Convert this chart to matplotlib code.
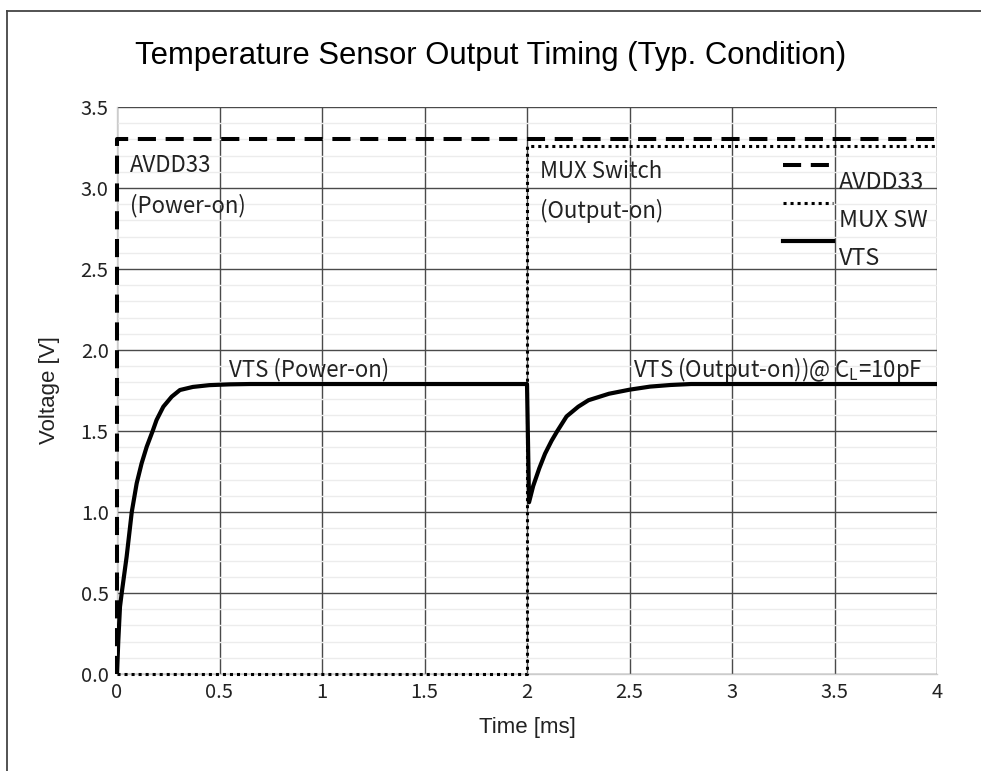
import matplotlib
matplotlib.use("Agg")
import matplotlib.pyplot as plt
from matplotlib.lines import Line2D
import numpy as np

# ---- data ----
avdd_t = [0.0, 0.0, 4.0]
avdd_v = [0.0, 3.30, 3.30]

mux_t = [0.0, 2.0, 2.0, 4.0]
mux_v = [0.0, 0.0, 3.26, 3.26]

vts_t = [0.0, 0.0065, 0.0146, 0.023, 0.047, 0.072, 0.096, 0.12, 0.145, 0.174, 0.193,
         0.226, 0.267, 0.307, 0.37, 0.45, 0.55, 0.65, 2.0,
         2.01, 2.03, 2.06, 2.088, 2.12, 2.148, 2.193, 2.25, 2.3,
         2.4, 2.5, 2.6, 2.7, 2.8, 4.0]
vts_v = [0.0, 0.21, 0.415, 0.5, 0.724, 1.0, 1.177, 1.30, 1.403, 1.5, 1.568,
         1.65, 1.712, 1.753, 1.772, 1.783, 1.788, 1.79, 1.79,
         1.06, 1.16, 1.27, 1.36, 1.44, 1.5, 1.59, 1.65, 1.69,
         1.73, 1.755, 1.774, 1.784, 1.79, 1.79]

x_ticks = [0, 0.5, 1, 1.5, 2, 2.5, 3, 3.5, 4]
x_tick_labels = ["0", "0.5", "1", "1.5", "2", "2.5", "3", "3.5", "4"]
y_ticks = [0.0, 0.5, 1.0, 1.5, 2.0, 2.5, 3.0, 3.5]
y_tick_labels = ["0.0", "0.5", "1.0", "1.5", "2.0", "2.5", "3.0", "3.5"]

legend_labels = ["AVDD33", "MUX SW", "VTS"]

# ---- figure ----
W, H = 981, 771
fig = plt.figure(figsize=(W / 100, H / 100), dpi=100)
ax = fig.add_axes([117 / W, 1 - 674 / H, 820 / W, 567 / H])

lab_font = ["Noto Sans CJK KR", "DejaVu Sans"]
txt_col = "#222222"

ax.set_xlim(0, 4)
ax.set_ylim(0, 3.5)
ax.set_xticks(x_ticks)
ax.set_xticklabels(x_tick_labels, fontfamily=lab_font, fontsize=14.5, color=txt_col)
ax.set_yticks(y_ticks)
ax.set_yticklabels(y_tick_labels, fontfamily=lab_font, fontsize=14.5, color=txt_col)
ax.set_yticks(np.arange(0, 3.51, 0.1), minor=True)
ax.tick_params(axis="both", which="both", length=0)
ax.tick_params(axis="y", pad=6)
ax.tick_params(axis="x", pad=6)

ax.grid(True, which="minor", axis="y", color="#ececec", lw=1.0, zorder=0)
ax.grid(True, which="major", axis="both", color="#4a4a4a", lw=1.0, zorder=1)
for s in ["top", "right"]:
    ax.spines[s].set_visible(False)
for s in ["left", "bottom"]:
    ax.spines[s].set_color("#cccccc")
    ax.spines[s].set_linewidth(1.0)

# series
ax.plot(avdd_t, avdd_v, color="black", lw=2.9, dashes=(4.5, 2.4), zorder=5, clip_on=False)
ax.plot(mux_t, mux_v, color="black", lw=2.2, dashes=(1.0, 1.3), zorder=4, clip_on=False)
ax.plot(vts_t, vts_v, color="black", lw=3.0, zorder=6, solid_joinstyle="round")

# annotations
afs = 16
ax.text(0.063, 3.10, "AVDD33", fontfamily=lab_font, fontsize=afs, color=txt_col, va="baseline")
ax.text(0.063, 2.852, "(Power-on)", fontfamily=lab_font, fontsize=afs, color=txt_col, va="baseline")
ax.text(2.063, 3.059, "MUX Switch", fontfamily=lab_font, fontsize=afs, color=txt_col, va="baseline")
ax.text(2.063, 2.813, "(Output-on)", fontfamily=lab_font, fontsize=afs, color=txt_col, va="baseline")
ax.text(0.548, 1.835, "VTS (Power-on)", fontfamily=lab_font, fontsize=afs, color=txt_col, va="baseline")
ax.text(2.519, 1.835, "VTS (Output-on))@ C$_\\mathregular{L}$=10pF", fontfamily=lab_font,
        fontsize=afs, color=txt_col, va="baseline")

# manual legend (line sample above, label offset below)
leg_styles = [dict(lw=2.9, dashes=(4.5, 2.4)), dict(lw=2.2, dashes=(1.0, 1.3)), dict(lw=3.0)]
line_y = [0.898, 0.831, 0.764]
text_y = [0.855, 0.789, 0.721]
for lab, st, ly, ty in zip(legend_labels, leg_styles, line_y, text_y):
    ax.add_line(Line2D([0.812, 0.873], [ly, ly], transform=ax.transAxes, color="black", zorder=7, **st))
    ax.text(0.880, ty, lab, transform=ax.transAxes, fontfamily=lab_font, fontsize=afs + 0.8,
            color=txt_col, va="baseline", ha="left", zorder=7)

# titles / labels
fig.text(0.5, 1 - 64 / H, "Temperature Sensor Output Timing (Typ. Condition)",
         fontfamily="Liberation Sans", fontsize=22.3, ha="center", va="baseline", color="black")
fig.text(527 / W, 1 - 733 / H, "Time [ms]", fontfamily="Liberation Sans", fontsize=16,
         ha="center", va="baseline", color=txt_col)
fig.text(50 / W, 1 - 390 / H, "Voltage [V]", fontfamily="Liberation Sans", fontsize=16,
         ha="center", va="center", rotation=90, color=txt_col)

# frame border (top and left edges visible)
fig.add_artist(Line2D([7 / W, 7 / W], [0, 1 - 11 / H], transform=fig.transFigure, color="#444444", lw=1.3))
fig.add_artist(Line2D([7 / W, 1], [1 - 11 / H, 1 - 11 / H], transform=fig.transFigure, color="#444444", lw=1.3))

fig.savefig("out.png", dpi=100)
